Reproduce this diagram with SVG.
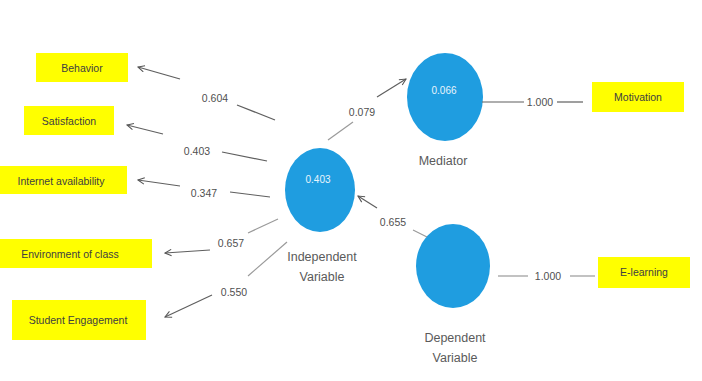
<svg xmlns="http://www.w3.org/2000/svg" width="702" height="381" viewBox="0 0 702 381">
<defs>
<marker id="open" viewBox="0 0 10 10" refX="9" refY="5" markerWidth="8" markerHeight="8" orient="auto" markerUnits="userSpaceOnUse">
<polyline points="1,1 9,5 1,9" fill="none" stroke="#555" stroke-width="1.3"/>
</marker>
</defs>
<style>
.box{fill:#ffff00}
.bt{font-family:"Liberation Sans",Arial,sans-serif;font-size:10.5px;fill:#404040;text-anchor:middle}
.circ{fill:#1f9de0}
.ct{font-family:"Liberation Sans",Arial,sans-serif;font-size:10px;fill:#e8f4fc;text-anchor:middle}
.lab{font-family:"Liberation Sans",Arial,sans-serif;font-size:12.5px;fill:#5a5a5a;text-anchor:middle}
.num{font-family:"Liberation Sans",Arial,sans-serif;font-size:10.5px;fill:#505050;text-anchor:middle}
.ln{stroke:#5f5f5f;stroke-width:1.2;fill:none}
.lg{stroke:#9a9a9a;stroke-width:1.2;fill:none}
</style>
<rect width="702" height="381" fill="#ffffff"/>

<g id="behavior"><rect class="box" x="36" y="53" width="92" height="29"/><text class="bt" x="82" y="72">Behavior</text></g>
<g id="satisfaction"><rect class="box" x="24" y="106" width="90" height="29"/><text class="bt" x="69" y="125">Satisfaction</text></g>
<g id="internet"><rect class="box" x="0" y="166" width="127" height="28"/><text class="bt" x="61" y="185">Internet availability</text></g>
<g id="environment"><rect class="box" x="0" y="239" width="152" height="29"/><text class="bt" x="70" y="258">Environment of class</text></g>
<g id="engagement"><rect class="box" x="12" y="300" width="134" height="40"/><text class="bt" x="78" y="324">Student Engagement</text></g>
<g id="motivation"><rect class="box" x="592" y="82" width="92" height="30"/><text class="bt" x="638" y="101">Motivation</text></g>
<g id="elearning"><rect class="box" x="598" y="257" width="92" height="31"/><text class="bt" x="644" y="276">E-learning</text></g>

<g id="independent"><ellipse class="circ" cx="320" cy="190" rx="35" ry="42"/><text class="ct" x="318" y="183">0.403</text><text class="lab" x="322" y="261">Independent</text><text class="lab" x="322" y="281">Variable</text></g>
<g id="mediator"><ellipse class="circ" cx="445" cy="97" rx="38" ry="44"/><text class="ct" x="444" y="94">0.066</text><text class="lab" x="443" y="165">Mediator</text></g>
<g id="dependent"><ellipse class="circ" cx="453" cy="266" rx="37" ry="42"/><text class="lab" x="455" y="342">Dependent</text><text class="lab" x="455" y="362">Variable</text></g>

<g id="connectors">
<line class="ln" x1="180" y1="79" x2="138" y2="67" marker-end="url(#open)"/>
<line class="ln" x1="275" y1="120" x2="237" y2="105"/>
<text class="num" x="215" y="102">0.604</text>

<line class="ln" x1="163" y1="134" x2="127" y2="125" marker-end="url(#open)"/>
<line class="ln" x1="267" y1="161" x2="222" y2="152"/>
<text class="num" x="197" y="155">0.403</text>

<line class="ln" x1="180" y1="186" x2="138" y2="180" marker-end="url(#open)"/>
<line class="ln" x1="270" y1="197" x2="230" y2="192"/>
<text class="num" x="204" y="197">0.347</text>

<line class="ln" x1="210" y1="250" x2="165" y2="253" marker-end="url(#open)"/>
<line class="lg" x1="278" y1="219" x2="248" y2="233"/>
<text class="num" x="231" y="247">0.657</text>

<line class="ln" x1="212" y1="295" x2="165" y2="317" marker-end="url(#open)"/>
<line class="lg" x1="287" y1="242" x2="248" y2="276"/>
<text class="num" x="234" y="296">0.550</text>

<line class="lg" x1="328" y1="140" x2="353" y2="122"/>
<line class="ln" x1="377" y1="97" x2="406" y2="79" marker-end="url(#open)"/>
<text class="num" x="362" y="116">0.079</text>

<line class="lg" x1="427" y1="237" x2="413" y2="230"/>
<line class="ln" x1="377" y1="208" x2="358" y2="196" marker-end="url(#open)"/>
<text class="num" x="393" y="226">0.655</text>

<line class="ln" x1="482" y1="102" x2="524" y2="102"/>
<line class="ln" x1="557" y1="102" x2="583" y2="102"/>
<text class="num" x="540" y="106">1.000</text>

<line class="lg" x1="498" y1="276" x2="528" y2="276"/>
<line class="lg" x1="570" y1="276" x2="595" y2="276"/>
<text class="num" x="548" y="280">1.000</text>
</g>
</svg>
